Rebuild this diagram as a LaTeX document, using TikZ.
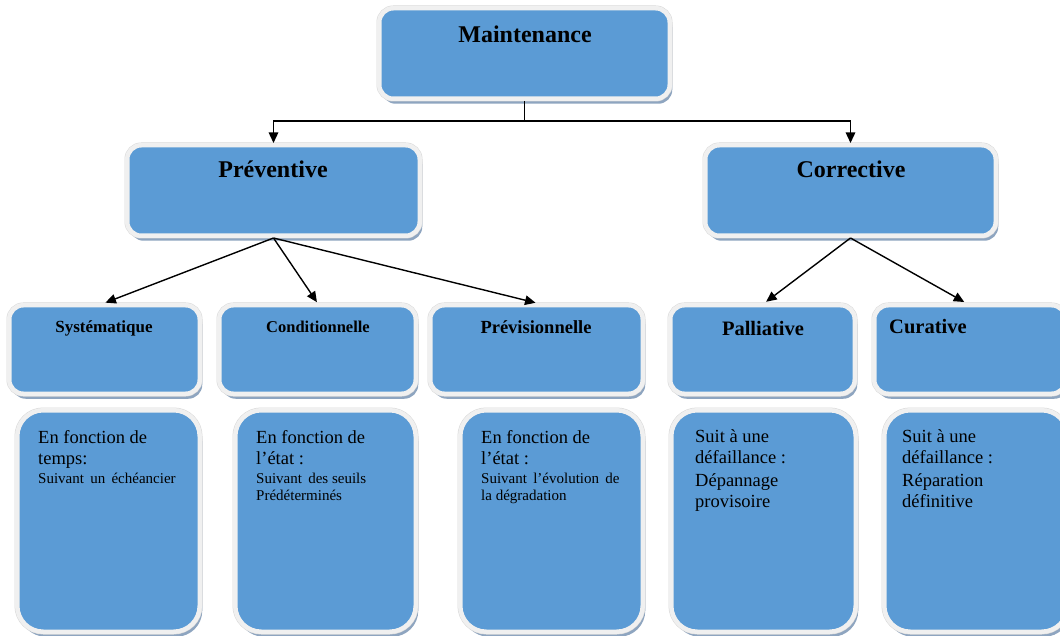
\documentclass[tikz,border=0pt]{standalone}
\usepackage{fontspec}
\setmainfont{Liberation Serif}
\usetikzlibrary{arrows.meta,shadows}
\definecolor{boxblue}{HTML}{5B9BD5}
\definecolor{rim}{HTML}{F0F0F0}
\definecolor{rimedge}{HTML}{D8D8D8}
\definecolor{shade}{HTML}{8EA5C0}
\begin{document}
\begin{tikzpicture}[x=1pt,y=-1pt,
  box/.style={rectangle, rounded corners=14pt, inner sep=0pt, outer sep=2.25pt,
    drop shadow={shadow xshift=2.5pt, shadow yshift=-5pt, fill=shade, opacity=1},
    preaction={draw=rimedge, line width=5.5pt},
    fill=boxblue, draw=rim, line width=4.5pt},
  tallbox/.style={box, rounded corners=26pt},
  link/.style={line width=1.4pt, black},
  arr/.style={link, -{Triangle[length=10.5pt,width=9.5pt]}},
  head/.style={anchor=base, font=\fontsize{24}{28}\selectfont\bfseries},
  sub/.style={anchor=base, font=\fontsize{#1}{#1}\selectfont\bfseries},
  big/.style={anchor=base west, inner sep=0pt, font=\fontsize{18.5}{21}\selectfont},
  small/.style={anchor=base west, inner sep=0pt, font=\fontsize{15}{17}\selectfont},
]
\useasboundingbox[fill=white] (0,0) rectangle (1060,636);

% first two levels
\node[box, minimum width=290.5pt, minimum height=90.5pt] (maint) at (524.5,53.5) {};
\node[box, minimum width=292.5pt, minimum height=90.5pt] (prev) at (273.5,190.5) {};
\node[box, minimum width=290.5pt, minimum height=90.5pt] (corr) at (850.5,190.5) {};

% third level
\node[box, minimum width=190.5pt, minimum height=88.5pt] (sys) at (104.5,349.5) {};
\node[box, minimum width=196.5pt, minimum height=88.5pt] (cond) at (317.5,349.5) {};
\node[box, minimum width=212.5pt, minimum height=88.5pt] (previ) at (536.5,349.5) {};
\node[box, minimum width=184.5pt, minimum height=88.5pt] (pall) at (762.5,349.5) {};
\node[box, minimum width=191.5pt, minimum height=88.5pt] (cur) at (970,349.5) {};

% description boxes
\node[tallbox, minimum width=182.5pt, minimum height=221.5pt] (dsys) at (108.5,521) {};
\node[tallbox, minimum width=180.5pt, minimum height=221.5pt] (dcond) at (325.5,521) {};
\node[tallbox, minimum width=182.5pt, minimum height=221.5pt] (dprevi) at (551.5,521) {};
\node[tallbox, minimum width=184.5pt, minimum height=221.5pt] (dpall) at (763.5,521) {};
\node[tallbox, minimum width=183.5pt, minimum height=221.5pt] (dcur) at (976,521) {};

% connectors
\draw[link] (maint.south) -- ++(0,20) coordinate (split);
\draw[arr] (split) -| (prev.north);
\draw[arr] (split) -| (corr.north);
\draw[arr, shorten >=1pt] (prev.south) -- (sys.north);
\draw[arr, shorten >=1pt] (prev.south) -- (cond.north);
\draw[arr, shorten >=1pt] (prev.south) -- (previ.north);
\draw[arr, shorten >=2pt] (corr.south) -- ([xshift=2pt]pall.north);
\draw[arr, shorten >=2pt] (corr.south) -- ([xshift=-4pt]cur.north);

% titles
\node[head] (tmaint) at (525,43) {Maintenance};
\node[head] (tprev) at (273,178) {Préventive};
\node[head] (tcorr) at (851,178) {Corrective};
\node[sub=17] (tsys) at (104,332) {Systématique};
\node[sub=16.5] (tcond) at (318,332) {Conditionnelle};
\node[sub=18.5] (tprevi) at (536,333) {Prévisionnelle};
\node[sub=20.5] (tpall) at (763,335) {Palliative};
\node[sub=20.5, anchor=base west, inner sep=0pt] (tcur) at (889,334) {Curative};

% descriptions
\node[big] (a1) at (38,443) {En fonction de};
\node[big] (a2) at (38,464) {temps:};
\node[small] (a3) at (38,483) {Suivant\, un\, échéancier};

\node[big] (b1) at (256,443) {En fonction de};
\node[big] (b2) at (256,464) {l’état :};
\node[small] (b3) at (256,483) {Suivant\, des seuils};
\node[small] (b4) at (256,500) {Prédéterminés};

\node[big] (c1) at (481,443) {En fonction de};
\node[big] (c2) at (481,464) {l’état :};
\node[small] (c3) at (481,483) {Suivant\, l’évolution\, de};
\node[small] (c4) at (481,500) {la dégradation};

\node[big] (d1) at (695,442) {Suit à une};
\node[big] (d2) at (695,463) {défaillance :};
\node[big] (d3) at (695,486) {Dépannage};
\node[big] (d4) at (695,507) {provisoire};

\node[big] (e1) at (902,442) {Suit à une};
\node[big] (e2) at (902,463) {défaillance :};
\node[big] (e3) at (902,486) {Réparation};
\node[big] (e4) at (902,507) {définitive};
\end{tikzpicture}
\end{document}
